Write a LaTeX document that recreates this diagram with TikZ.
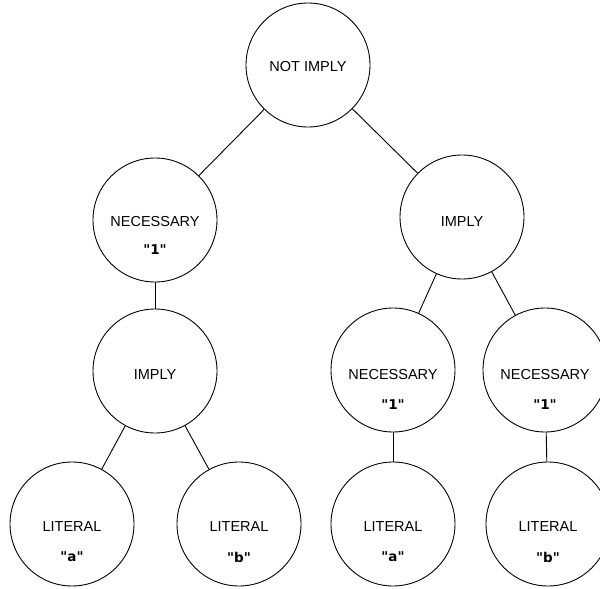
\documentclass[tikz,border=0pt]{standalone}
\usepackage{fontspec}
\setmainfont{Liberation Sans}
\newfontfamily\qfont{DejaVu Sans}
\begin{document}
\begin{tikzpicture}[x=1pt,y=-1pt,
  tnode/.style={draw, circle, line width=0.9pt, minimum size=124pt, inner sep=0pt},
  lbl/.style={font=\fontsize{14.5}{16}\selectfont, inner sep=0pt},
  qlbl/.style={font=\qfont\bfseries\fontsize{13.5}{15}\selectfont, inner sep=0pt},
  edge/.style={line width=0.9pt}]
\useasboundingbox (0,0) rectangle (600,589);
\node[tnode] (root) at (308,65) {};
\node[tnode] (nl) at (155,220) {};
\node[tnode] (ir) at (462,217) {};
\node[tnode] (il) at (155,371) {};
\node[tnode] (nm) at (393,370) {};
\node[tnode] (nr) at (545,370) {};
\node[tnode] (la1) at (72,524) {};
\node[tnode] (lb1) at (239,524) {};
\node[tnode] (la2) at (393,524) {};
\node[tnode] (lb2) at (548,524) {};
\draw[edge] (root) -- (nl);
\draw[edge] (root) -- (ir);
\draw[edge] (nl) -- (il);
\draw[edge] (il) -- (la1);
\draw[edge] (il) -- (lb1);
\draw[edge] (ir) -- (nm);
\draw[edge] (ir) -- (nr);
\draw[edge] (nm) -- (la2);
\draw[edge] (nr) -- (lb2);
\node[lbl] (t1) at ([yshift=-2pt]root.center) {NOT IMPLY};
\node[lbl] (t2) at ([yshift=-2pt]nl.center) {NECESSARY};
\node[qlbl] (q2) at ([yshift=-30pt]nl.center) {"1"};
\node[lbl] (t3) at ([yshift=-5pt]ir.center) {IMPLY};
\node[lbl] (t4) at ([yshift=-4pt]il.center) {IMPLY};
\node[lbl] (t5) at ([yshift=-5pt]nm.center) {NECESSARY};
\node[qlbl] (q5) at ([yshift=-35pt]nm.center) {"1"};
\node[lbl] (t6) at ([yshift=-5pt]nr.center) {NECESSARY};
\node[qlbl] (q6) at ([yshift=-35pt]nr.center) {"1"};
\node[lbl] (t7) at ([yshift=-3pt]la1.center) {LITERAL};
\node[qlbl] (q7) at ([yshift=-33pt]la1.center) {"a"};
\node[lbl] (t8) at ([yshift=-3pt]lb1.center) {LITERAL};
\node[qlbl] (q8) at ([yshift=-33pt]lb1.center) {"b"};
\node[lbl] (t9) at ([yshift=-3pt]la2.center) {LITERAL};
\node[qlbl] (q9) at ([yshift=-33pt]la2.center) {"a"};
\node[lbl] (t10) at ([yshift=-3pt]lb2.center) {LITERAL};
\node[qlbl] (q10) at ([yshift=-33pt]lb2.center) {"b"};
\end{tikzpicture}
\end{document}
